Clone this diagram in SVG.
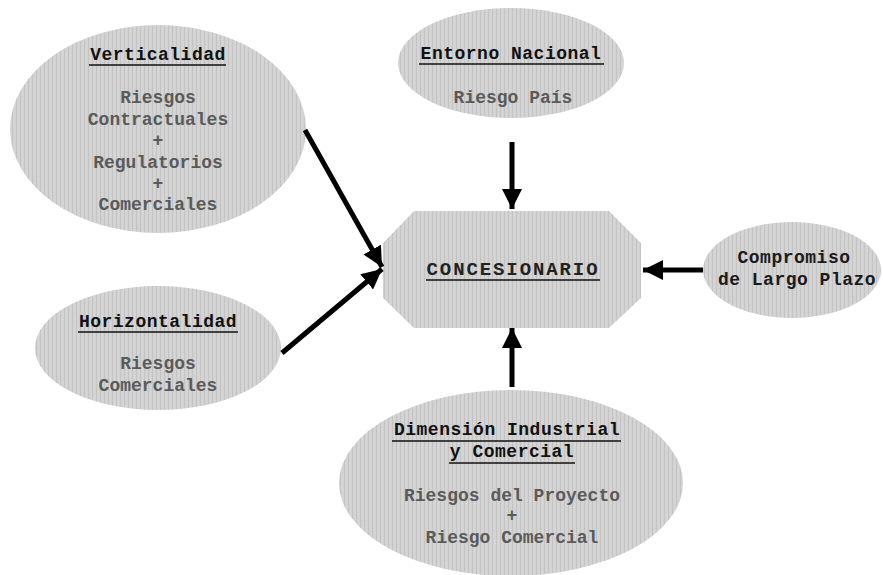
<svg xmlns="http://www.w3.org/2000/svg" width="883" height="575" viewBox="0 0 883 575">
<defs>
<pattern id="dither" width="4" height="2" patternUnits="userSpaceOnUse">
<rect width="4" height="2" fill="#d2d2d2"/>
<rect x="0" y="0" width="1" height="2" fill="#c4c4c4"/>
<rect x="2" y="1" width="1" height="1" fill="#dadada"/>
</pattern>
<marker id="arr" markerUnits="userSpaceOnUse" markerWidth="20" markerHeight="20" viewBox="0 0 18 18" refX="18" refY="9" orient="auto">
<path d="M0,0 L18,9 L0,18 Z" fill="#000"/>
</marker>
<style>
.shape{fill:url(#dither);}
.t{font-family:"Liberation Mono","Courier New",monospace;font-weight:bold;font-size:18px;text-anchor:middle;fill:#111;letter-spacing:0.5px;}
.b{font-family:"Liberation Mono","Courier New",monospace;font-weight:bold;font-size:18px;text-anchor:middle;fill:#5a5a5a;}
.u{stroke:#111;stroke-width:1.6;}
.c{stroke:#000;stroke-width:5;fill:none;marker-end:url(#arr);}
</style>
</defs>
<rect width="883" height="575" fill="#fff"/>

<g id="verticalidad">
<ellipse class="shape" cx="158" cy="129" rx="148" ry="104"/>
<text class="t" x="158" y="60">Verticalidad</text>
<line class="u" x1="89" y1="65" x2="226" y2="65"/>
<text class="b" x="158" y="103">Riesgos</text>
<text class="b" x="158" y="125">Contractuales</text>
<text class="b" x="158" y="146">+</text>
<text class="b" x="158" y="168">Regulatorios</text>
<text class="b" x="158" y="189">+</text>
<text class="b" x="158" y="210">Comerciales</text>
</g>

<g id="entorno">
<ellipse class="shape" cx="511" cy="63" rx="113" ry="55"/>
<text class="t" x="511" y="59">Entorno Nacional</text>
<line class="u" x1="419" y1="64" x2="604" y2="64"/>
<text class="b" x="513" y="103">Riesgo País</text>
</g>

<g id="horizontalidad">
<ellipse class="shape" cx="158" cy="348" rx="123" ry="62"/>
<text class="t" x="158" y="327">Horizontalidad</text>
<line class="u" x1="78" y1="332" x2="238" y2="332"/>
<text class="b" x="158" y="369">Riesgos</text>
<text class="b" x="158" y="391">Comerciales</text>
</g>

<g id="concesionario">
<polygon class="shape" points="414,211 609,211 641,243 641,298 609,328 414,328 383,298 383,243"/>
<text x="513" y="275" style="font-family:'Liberation Mono','Courier New',monospace;font-weight:bold;font-size:19px;text-anchor:middle;fill:#222;letter-spacing:1.9px;">CONCESIONARIO</text>
<line class="u" x1="426" y1="280" x2="600" y2="280"/>
</g>

<g id="compromiso">
<ellipse class="shape" cx="792" cy="270" rx="89" ry="48"/>
<text class="t" x="794" y="263" style="fill:#1a1a1a">Compromiso</text>
<text class="t" x="797" y="285" style="fill:#1a1a1a">de Largo Plazo</text>
</g>

<g id="dimension">
<ellipse class="shape" cx="511" cy="483" rx="172" ry="93"/>
<text class="t" x="507" y="435">Dimensión Industrial</text>
<line class="u" x1="392" y1="441" x2="621" y2="441"/>
<text class="t" x="512" y="457">y Comercial</text>
<line class="u" x1="449" y1="463" x2="575" y2="463"/>
<text class="b" x="512" y="501">Riesgos del Proyecto</text>
<text class="b" x="512" y="521">+</text>
<text class="b" x="512" y="543">Riesgo Comercial</text>
</g>

<g id="connectors">
<line class="c" x1="305" y1="130" x2="382" y2="267"/>
<line class="c" x1="282" y1="353" x2="382" y2="269"/>
<line class="c" x1="512" y1="142" x2="512" y2="209"/>
<line class="c" x1="512" y1="387" x2="512" y2="328"/>
<line class="c" x1="703" y1="270" x2="643" y2="270"/>
</g>
</svg>
